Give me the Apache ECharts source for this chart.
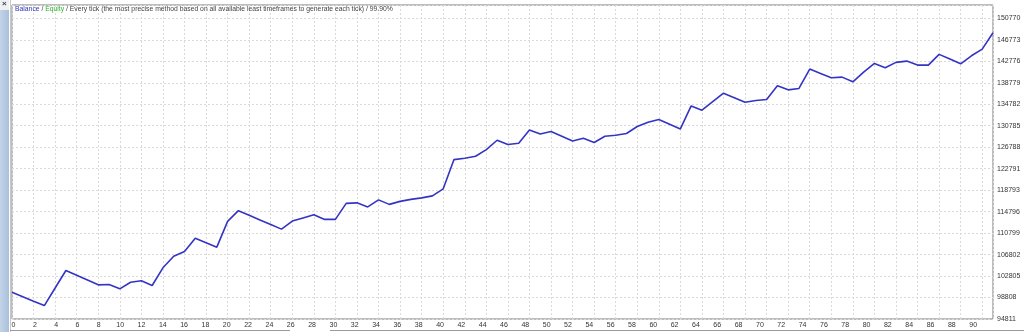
<!DOCTYPE html>
<html>
<head>
<meta charset="utf-8">
<script src="https://cdn.jsdelivr.net/npm/echarts@6/dist/echarts.min.js"></script>
<style>
html,body{margin:0;padding:0;background:#fff;}
#chart{width:1024px;height:332px;}
</style>
</head>
<body>
<div id="chart"></div>
<script>
// Trade index (x) and balance values (y)
const balance = [
  99791, 98970, 98131, 97310, 100574, 103838, 102961, 102066, 101171, 101227,
  100425, 101656, 101917, 101040, 104342, 106505, 107382, 109862, 109023, 108183,
  112977, 114972, 114114, 113256, 112398, 111540, 113033, 113629, 114226, 113350,
  113350, 116334, 116427, 115681, 116987, 116147, 116707, 117080, 117360, 117733,
  119038, 124484, 124727, 125100, 126349, 128084, 127282, 127525, 130005, 129259,
  129706, 128830, 127953, 128457, 127655, 128830, 129016, 129333, 130639, 131441,
  131945, 131068, 130191, 134481, 133678, 135265, 136850, 136010, 135170, 135488,
  135674, 138211, 137465, 137727, 141327, 140525, 139704, 139833, 138958, 140767,
  142389, 141568, 142576, 142818, 142072, 142072, 144068, 143191, 142315, 143807,
  145056, 148097
];
const yTickLabels = ['94811','98808','102805','106802','110799','114796','118793','122791',
  '126788','130785','134782','138779','142776','146773','150770'];
const yMin = 94811;
const yStep = 3997.07;
const yMax = 153260;
const xLabelCount = 92;
const titleParts = [
  ['b', 'Balance'], ['t', ' / '], ['g', 'Equity'],
  ['t', ' / Every tick (the most precise method based on all available least timeframes to generate each tick) / 99.90%']
];

const points = balance.map((v, i) => [i, v]);
const chart = echarts.init(document.getElementById('chart'), null, {renderer: 'canvas'});
const FONT = 'Liberation Sans';
const TFS = 6.8;

chart.setOption({
  animation: false,
  backgroundColor: '#ffffff',
  grid: {
    left: 12, right: 31, top: 5, bottom: 13,
    show: true, borderColor: '#7a7a7a', borderWidth: 1, backgroundColor: '#ffffff'
  },
  title: {
    left: 15, top: 6, padding: 0,
    text: titleParts.map(p => '{' + p[0] + '|' + p[1] + '}').join(''),
    textStyle: {
      fontFamily: FONT, fontSize: TFS, fontWeight: 'normal',
      rich: {
        b: {color: '#3333bb', fontFamily: FONT, fontSize: TFS},
        g: {color: '#2cb42c', fontFamily: FONT, fontSize: TFS},
        t: {color: '#444444', fontFamily: FONT, fontSize: TFS}
      }
    }
  },
  xAxis: [{
    type: 'value', min: 0, max: balance.length - 1, interval: 2,
    axisLine: {show: false}, axisTick: {show: false}, axisLabel: {show: false},
    splitLine: {show: true, lineStyle: {color: '#dadada', type: [2, 2], width: 1}}
  }, {
    type: 'value', min: 0, max: xLabelCount, interval: 2, position: 'bottom',
    axisLine: {show: false}, axisTick: {show: false}, splitLine: {show: false},
    axisLabel: {
      show: true, margin: 3, color: '#333', fontFamily: FONT, fontSize: 7,
      showMaxLabel: false, showMinLabel: true, padding: [0, 0, 0, 3]
    }
  }],
  yAxis: {
    type: 'value', position: 'right', min: yMin, max: yMax, interval: yStep,
    axisLine: {show: false}, axisTick: {show: false},
    splitLine: {show: true, lineStyle: {color: '#dadada', type: [2, 2], width: 1}},
    axisLabel: {
      show: true, margin: 4, color: '#333', fontFamily: FONT, fontSize: 7,
      showMaxLabel: false,
      formatter: function (v) {
        const k = Math.round((v - yMin) / yStep);
        return (k >= 0 && k < yTickLabels.length) ? yTickLabels[k] : '';
      }
    }
  },
  series: [{
    type: 'line', xAxisIndex: 0, data: points, showSymbol: false, symbol: 'none',
    lineStyle: {color: '#3434c4', width: 1.6}, z: 5
  }],
  graphic: [
    {type: 'rect', shape: {x: 0, y: 10, width: 9, height: 322},
      style: {fill: new echarts.graphic.LinearGradient(0, 0, 1, 0, [
        {offset: 0, color: '#c4d4e8'}, {offset: 1, color: '#a9bfdb'}])}, silent: true},
    {type: 'rect', shape: {x: 0, y: 0, width: 9, height: 10}, style: {fill: '#eef0f3'}, silent: true},
    {type: 'text', left: 2, top: 0, style: {text: '×', fill: '#444', font: 'bold 8px ' + FONT}, silent: true},
    {type: 'line', shape: {x1: 10.5, y1: 0, x2: 10.5, y2: 332}, style: {stroke: '#c8c8c8', lineWidth: 1}, silent: true},
    {type: 'line', shape: {x1: 10, y1: 330.5, x2: 290, y2: 330.5}, style: {stroke: '#9a9a9a', lineWidth: 1}, silent: true},
    {type: 'line', shape: {x1: 330, y1: 330.5, x2: 1024, y2: 330.5}, style: {stroke: '#9a9a9a', lineWidth: 1}, silent: true}
  ]
});
</script>
</body>
</html>
